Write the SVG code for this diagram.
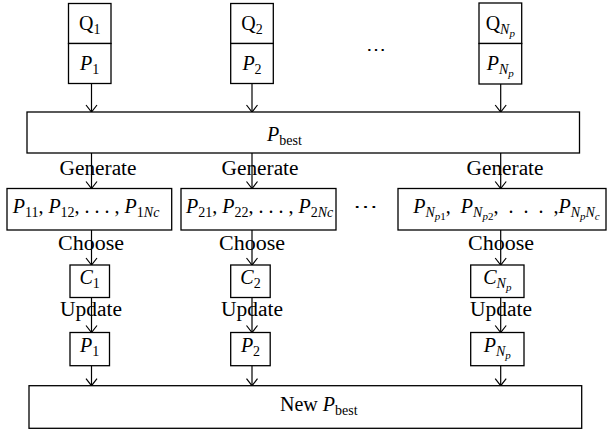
<svg xmlns="http://www.w3.org/2000/svg" width="607" height="432" viewBox="0 0 607 432">
<defs>
<style>
.box{fill:#fff;stroke:#000;stroke-width:1.3}
.t{font-family:"Liberation Serif","Times New Roman",serif;font-size:20px;fill:#000}
.m{text-anchor:middle}
.i{font-style:italic}
.s{font-size:14px}
.ss{font-size:11px}
.pre{white-space:pre}
.c{stroke:#000;stroke-width:1.2;fill:none;marker-end:url(#ah)}
</style>
<marker id="ah" viewBox="-1 -7 9 14" refX="7" refY="0" markerWidth="9" markerHeight="14" markerUnits="userSpaceOnUse" orient="auto">
<path d="M0,-5.5 L7,0 L0,5.5" fill="none" stroke="#000" stroke-width="1.2"/>
</marker>
</defs>
<rect width="607" height="432" fill="#fff"/>

<g id="connectors">
<line class="c" x1="91.5" y1="83.5" x2="91.5" y2="112"/>
<line class="c" x1="252" y1="83.5" x2="252" y2="112"/>
<line class="c" x1="500.7" y1="84" x2="500.7" y2="112"/>
<line class="c" x1="91.5" y1="153" x2="91.5" y2="188.5"/>
<line class="c" x1="252" y1="153" x2="252" y2="188.5"/>
<line class="c" x1="500.7" y1="153" x2="500.7" y2="188.5"/>
<line class="c" x1="91.5" y1="230" x2="91.5" y2="265"/>
<line class="c" x1="252" y1="230" x2="252" y2="265"/>
<line class="c" x1="500.7" y1="230" x2="500.7" y2="265"/>
<line class="c" x1="91.5" y1="297.5" x2="91.5" y2="332.5"/>
<line class="c" x1="252" y1="297.5" x2="252" y2="332.5"/>
<line class="c" x1="500.7" y1="297.5" x2="500.7" y2="332.5"/>
<line class="c" x1="91.5" y1="365.7" x2="91.5" y2="385.7"/>
<line class="c" x1="252" y1="365.7" x2="252" y2="385.7"/>
<line class="c" x1="500.7" y1="365.7" x2="500.7" y2="385.7"/>
</g>

<g id="labels">
<text class="t m" x="98" y="175" textLength="77" lengthAdjust="spacingAndGlyphs">Generate</text>
<text class="t m" x="260" y="175" textLength="77" lengthAdjust="spacingAndGlyphs">Generate</text>
<text class="t m" x="505" y="175" textLength="77" lengthAdjust="spacingAndGlyphs">Generate</text>
<text class="t m" x="91" y="250" textLength="66" lengthAdjust="spacingAndGlyphs">Choose</text>
<text class="t m" x="252" y="250" textLength="66" lengthAdjust="spacingAndGlyphs">Choose</text>
<text class="t m" x="501" y="250" textLength="66" lengthAdjust="spacingAndGlyphs">Choose</text>
<text class="t m" x="91" y="316" textLength="62" lengthAdjust="spacingAndGlyphs">Update</text>
<text class="t m" x="252" y="316" textLength="62" lengthAdjust="spacingAndGlyphs">Update</text>
<text class="t m" x="501" y="316" textLength="62" lengthAdjust="spacingAndGlyphs">Update</text>
<text class="t m" x="375.5" y="56" textLength="20" lengthAdjust="spacingAndGlyphs">⋯</text>
<text class="t m" x="365.5" y="213" textLength="25" lengthAdjust="spacingAndGlyphs">⋯</text>
</g>

<g id="q1">
<rect class="box" x="68.5" y="3.5" width="42.5" height="40"/>
<text class="t m" x="89.7" y="30">Q<tspan class="s" dy="4">1</tspan></text>
</g>
<g id="p1top">
<rect class="box" x="68.5" y="43.5" width="42.5" height="40"/>
<text class="t m" x="89.7" y="70"><tspan class="i">P</tspan><tspan class="s" dy="4">1</tspan></text>
</g>
<g id="q2">
<rect class="box" x="230.7" y="3.5" width="42.6" height="40"/>
<text class="t m" x="252" y="30">Q<tspan class="s" dy="4">2</tspan></text>
</g>
<g id="p2top">
<rect class="box" x="230.7" y="43.5" width="42.6" height="40"/>
<text class="t m" x="252" y="70"><tspan class="i">P</tspan><tspan class="s" dy="4">2</tspan></text>
</g>
<g id="qnp">
<rect class="box" x="479" y="3" width="42.7" height="40.5"/>
<text class="t m" x="500.3" y="30">Q<tspan class="s i" dy="4">N</tspan><tspan class="ss i" dy="3">p</tspan></text>
</g>
<g id="pnptop">
<rect class="box" x="479" y="43.5" width="42.7" height="40.5"/>
<text class="t m" x="500.3" y="70"><tspan class="i">P</tspan><tspan class="s i" dy="4">N</tspan><tspan class="ss i" dy="3">p</tspan></text>
</g>

<g id="pbest">
<rect class="box" x="27" y="112" width="552.5" height="41"/>
<text class="t" x="267" y="141"><tspan class="i">P</tspan><tspan class="s" dy="3.5">best</tspan></text>
</g>

<g id="gen1">
<rect class="box" x="7" y="188.5" width="164.7" height="41.5"/>
<text class="t" x="12.7" y="213"><tspan class="i">P</tspan><tspan class="s" dy="4">11</tspan><tspan dy="-4">, </tspan><tspan class="i">P</tspan><tspan class="s" dy="4">12</tspan><tspan dy="-4">, . . . , </tspan><tspan class="i">P</tspan><tspan class="s" dy="4">1</tspan><tspan class="s i">Nc</tspan></text>
</g>
<g id="gen2">
<rect class="box" x="181" y="188.5" width="155" height="41.5"/>
<text class="t" x="186" y="213"><tspan class="i">P</tspan><tspan class="s" dy="4">21</tspan><tspan dy="-4">, </tspan><tspan class="i">P</tspan><tspan class="s" dy="4">22</tspan><tspan dy="-4">, . . . , </tspan><tspan class="i">P</tspan><tspan class="s" dy="4">2</tspan><tspan class="s i">Nc</tspan></text>
</g>
<g id="gen3">
<rect class="box" x="398" y="188.5" width="208" height="41.5"/>
<text class="t pre" x="413.3" y="213"><tspan class="i">P</tspan><tspan class="s i" dy="4">N</tspan><tspan class="ss i" dy="3">p</tspan><tspan class="ss">1</tspan><tspan dy="-7">,  </tspan><tspan class="i">P</tspan><tspan class="s i" dy="4">N</tspan><tspan class="ss i" dy="3">p</tspan><tspan class="ss">2</tspan><tspan dy="-7">,  .  .  .  ,</tspan><tspan class="i">P</tspan><tspan class="s i" dy="4">N</tspan><tspan class="ss i" dy="3">p</tspan><tspan class="s i" dy="-3">N</tspan><tspan class="ss i" dy="3">c</tspan></text>
</g>

<g id="c1">
<rect class="box" x="70" y="265" width="39.5" height="32.5"/>
<text class="t m" x="89.7" y="284"><tspan class="i">C</tspan><tspan class="s" dy="4">1</tspan></text>
</g>
<g id="c2">
<rect class="box" x="230.7" y="265" width="39.5" height="32.5"/>
<text class="t m" x="250.5" y="284"><tspan class="i">C</tspan><tspan class="s" dy="4">2</tspan></text>
</g>
<g id="cnp">
<rect class="box" x="470.7" y="265" width="53.3" height="32.5"/>
<text class="t m" x="497.3" y="284"><tspan class="i">C</tspan><tspan class="s i" dy="4">N</tspan><tspan class="ss i" dy="3">p</tspan></text>
</g>

<g id="p1">
<rect class="box" x="70" y="332.5" width="39.5" height="33.2"/>
<text class="t m" x="89.7" y="352"><tspan class="i">P</tspan><tspan class="s" dy="4">1</tspan></text>
</g>
<g id="p2">
<rect class="box" x="230.7" y="332.5" width="39.5" height="33.2"/>
<text class="t m" x="250.5" y="352"><tspan class="i">P</tspan><tspan class="s" dy="4">2</tspan></text>
</g>
<g id="pnp">
<rect class="box" x="470.7" y="332.5" width="53.3" height="33.2"/>
<text class="t m" x="497.3" y="352"><tspan class="i">P</tspan><tspan class="s i" dy="4">N</tspan><tspan class="ss i" dy="3">p</tspan></text>
</g>

<g id="newpbest">
<rect class="box" x="29" y="385.7" width="552.7" height="42.6"/>
<text class="t" x="280" y="411">New <tspan class="i">P</tspan><tspan class="s" dy="3.5">best</tspan></text>
</g>
</svg>
